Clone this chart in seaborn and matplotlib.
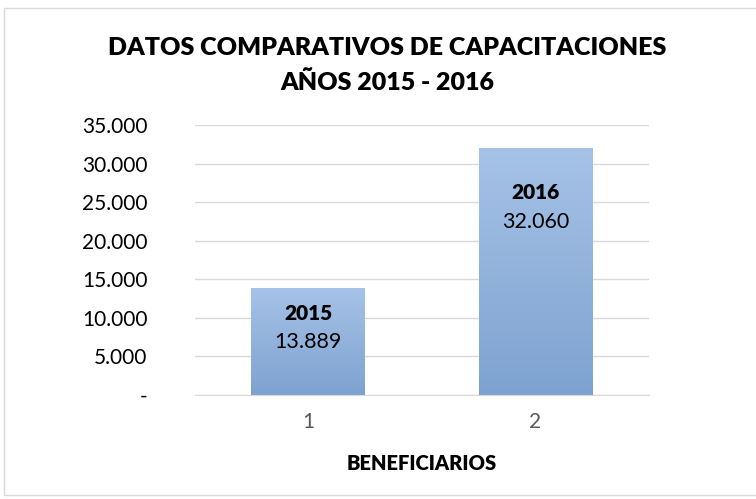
import numpy as np
import pandas as pd
import matplotlib
matplotlib.use("Agg")
import matplotlib.pyplot as plt
import seaborn as sns
from matplotlib.colors import LinearSegmentedColormap

# Data
categorias = ["1", "2"]
anios = ["2015", "2016"]
beneficiarios = [13889, 32060]
y_ticks = [0, 5000, 10000, 15000, 20000, 25000, 30000, 35000]

df = pd.DataFrame({"cat": categorias, "valor": beneficiarios})

sns.set_style("white")
plt.rcParams['font.family'] = ['Lato', 'DejaVu Sans']
plt.rcParams['text.color'] = 'black'
plt.rcParams['axes.labelcolor'] = 'black'

fig = plt.figure(figsize=(7.56, 4.99), dpi=100)
ax = fig.add_axes([0.2573, 0.2084, 0.6012, 0.5411])

sns.barplot(data=df, x="cat", y="valor", width=0.5, color="#9ab8e0", ax=ax, zorder=3)

# gradient fill for the bars (light top -> darker bottom)
cmap = LinearSegmentedColormap.from_list("grad", ["#7ea2d0", "#a6c3e7"])
grad = np.linspace(0, 1, 256).reshape(-1, 1)
for bar in ax.patches:
    x0, y0 = bar.get_x(), bar.get_y()
    w, h = bar.get_width(), bar.get_height()
    im = ax.imshow(grad, cmap=cmap, aspect="auto", origin="lower",
                   extent=[x0, x0 + w, y0, y0 + h], zorder=4)
    im.set_clip_path(bar)
    bar.set_edgecolor("none")

ax.set_xlim(-0.5, 1.5)
ax.set_ylim(0, 35000)
ax.set_yticks(y_ticks)
ax.set_yticklabels(["-" if v == 0 else f"{v:,}".replace(",", ".") for v in y_ticks],
                   fontsize=15, color="#000000")
ax.tick_params(axis="y", length=0, pad=34)
ax.tick_params(axis="x", length=0, pad=12, labelsize=15, labelcolor="#595959")
ax.grid(axis="y", color="#d9d9d9", linewidth=1, zorder=0)
for s in ["top", "right", "left"]:
    ax.spines[s].set_visible(False)
ax.spines["bottom"].set_color("#d9d9d9")
ax.set_ylabel("")
ax.set_xlabel("BENEFICIARIOS", fontsize=14.5, fontweight="heavy", labelpad=16)

# data labels inside bars
offsets = [(-26, -54), (-45, -74)]
for i, (anio, val) in enumerate(zip(anios, beneficiarios)):
    ax.annotate(anio, (i, val), xytext=(0, offsets[i][0] * 0.72), textcoords="offset points",
                ha="center", va="center", fontsize=15, fontweight="heavy", zorder=6)
    ax.annotate(f"{val:,}".replace(",", "."), (i, val), xytext=(0, offsets[i][1] * 0.72),
                textcoords="offset points", ha="center", va="center", fontsize=15.5, zorder=6)

fig.text(0.512, 0.904, "DATOS COMPARATIVOS DE CAPACITACIONES", ha="center", va="center",
         fontsize=18, fontweight="heavy")
fig.text(0.512, 0.834, "AÑOS 2015 - 2016", ha="center", va="center",
         fontsize=18, fontweight="heavy")

# chart border
fig.patches.append(plt.Rectangle((4 / 756, 4 / 499), 760 / 756, 487 / 499, transform=fig.transFigure,
                                 fill=False, edgecolor="#d9d9d9", linewidth=1))

fig.savefig("out.png", dpi=100)
